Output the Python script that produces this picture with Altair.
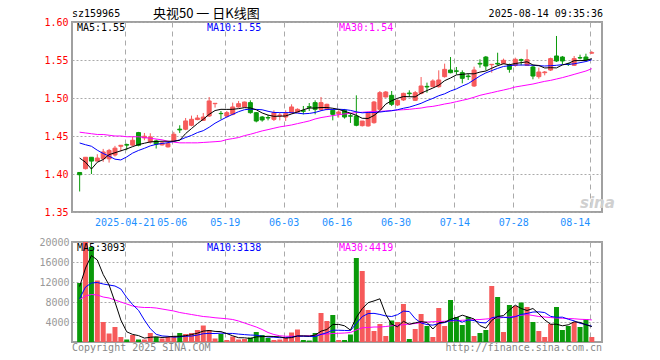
import altair as alt
import pandas as pd

MONO = "DejaVu Sans Mono"
CJK = "Noto Sans CJK SC"

# ---------------- data ----------------
open_ = [1.402, 1.407, 1.422, 1.417, 1.420, 1.420, 1.425, 1.4365, 1.4387, 1.438,
         1.4545, 1.4475, 1.4422, 1.4435, 1.4383, 1.4357, 1.4435, 1.459, 1.4589, 1.4641,
         1.4716, 1.4706, 1.4763, 1.4925, 1.4797, 1.4763, 1.4785, 1.4882, 1.4882, 1.4939,
         1.4807, 1.475, 1.4743, 1.4719, 1.477, 1.475, 1.4807, 1.4816, 1.4833, 1.4886,
         1.4939, 1.4851, 1.4851, 1.4838, 1.4794, 1.4838, 1.4766, 1.4763, 1.4636, 1.4632,
         1.4675, 1.4851, 1.5013, 1.5035, 1.4908, 1.4974, 1.5065, 1.4969, 1.5061, 1.5153,
         1.5149, 1.5149, 1.5281, 1.5368, 1.5357, 1.5333, 1.5289, 1.5158, 1.5456, 1.5539,
         1.5438, 1.5456, 1.5456, 1.543, 1.543, 1.5504, 1.543, 1.5408, 1.5281, 1.5333,
         1.5368, 1.5553, 1.5539, 1.5447, 1.543, 1.5531, 1.5539, 1.5591]
close = [1.399, 1.422, 1.417, 1.421, 1.429, 1.431, 1.434, 1.4378, 1.438, 1.4444,
         1.4378, 1.4497, 1.4488, 1.4392, 1.4409, 1.440, 1.4523, 1.458, 1.4698, 1.472,
         1.4737, 1.475, 1.4961, 1.493, 1.4794, 1.4807, 1.4882, 1.4925, 1.4947, 1.4807,
         1.4697, 1.4711, 1.4737, 1.4807, 1.4776, 1.4794, 1.4882, 1.4851, 1.4825, 1.4878,
         1.4851, 1.4939, 1.4917, 1.4785, 1.4816, 1.475, 1.4761, 1.4641, 1.4697, 1.4807,
         1.4947, 1.507, 1.5079, 1.4917, 1.4969, 1.5061, 1.5057, 1.507, 1.5158, 1.5145,
         1.5224, 1.5237, 1.5377, 1.5333, 1.5351, 1.5259, 1.5281, 1.5368, 1.5447, 1.5421,
         1.5443, 1.5447, 1.5496, 1.5377, 1.5509, 1.5496, 1.5504, 1.5289, 1.5342, 1.5342,
         1.5518, 1.5487, 1.5487, 1.5443, 1.5518, 1.5526, 1.55, 1.5596]
high = [1.402, 1.422, 1.422, 1.426, 1.433, 1.433, 1.437, 1.438, 1.440, 1.449,
        1.4554, 1.454, 1.4536, 1.4453, 1.4431, 1.4422, 1.4554, 1.4641, 1.4737, 1.4768,
        1.4777, 1.4803, 1.5013, 1.493, 1.4829, 1.4829, 1.4939, 1.4961, 1.4952, 1.4969,
        1.4815, 1.4763, 1.4776, 1.4838, 1.4807, 1.4838, 1.4917, 1.4864, 1.4895, 1.4934,
        1.4969, 1.5013, 1.4925, 1.4851, 1.4838, 1.4856, 1.4803, 1.5035, 1.4697, 1.4816,
        1.4961, 1.5092, 1.5092, 1.5092, 1.4982, 1.507, 1.5101, 1.5092, 1.5276, 1.5202,
        1.5246, 1.5364, 1.5452, 1.5539, 1.5408, 1.5364, 1.532, 1.5412, 1.5509, 1.5553,
        1.5443, 1.5596, 1.5518, 1.5452, 1.5531, 1.5518, 1.564, 1.5421, 1.5399, 1.5355,
        1.5531, 1.5816, 1.5553, 1.5465, 1.5553, 1.557, 1.5583, 1.5618]
low = [1.377, 1.406, 1.400, 1.417, 1.416, 1.415, 1.423, 1.4295, 1.4313, 1.4365,
       1.4365, 1.4444, 1.440, 1.4335, 1.4374, 1.4348, 1.4427, 1.454, 1.4576, 1.4628,
       1.4707, 1.470, 1.475, 1.4873, 1.4719, 1.4741, 1.4772, 1.4873, 1.4878, 1.4794,
       1.468, 1.4689, 1.4706, 1.4697, 1.4706, 1.4697, 1.4794, 1.481, 1.4785, 1.4829,
       1.4785, 1.4829, 1.4838, 1.4706, 1.4742, 1.4729, 1.4672, 1.4628, 1.4625, 1.4623,
       1.4662, 1.4842, 1.5004, 1.4894, 1.4894, 1.4961, 1.5013, 1.4961, 1.5048, 1.507,
       1.5145, 1.5136, 1.5268, 1.5325, 1.5311, 1.5193, 1.5237, 1.5145, 1.5399, 1.5364,
       1.5333, 1.543, 1.5443, 1.5333, 1.5412, 1.543, 1.5421, 1.5246, 1.5254, 1.5298,
       1.5355, 1.5474, 1.5443, 1.5421, 1.5421, 1.5509, 1.5491, 1.5579]
ma5 = [1.421, 1.4155, 1.4065, 1.4155, 1.419, 1.4255, 1.428, 1.4305, 1.433, 1.436,
       1.4387, 1.4405, 1.4422, 1.4428, 1.4431, 1.4431, 1.4431, 1.4444, 1.4532, 1.4598,
       1.4663, 1.472, 1.4785, 1.4835, 1.4851, 1.485, 1.4851, 1.486, 1.4873, 1.4869,
       1.4845, 1.4803, 1.4775, 1.4759, 1.476, 1.4764, 1.479, 1.4816, 1.4845, 1.4868,
       1.4868, 1.4875, 1.4875, 1.4865, 1.485, 1.4825, 1.48, 1.4772, 1.4733, 1.4731,
       1.477, 1.4832, 1.492, 1.4964, 1.4996, 1.5019, 1.5017, 1.5015, 1.5063, 1.5098,
       1.5131, 1.5167, 1.5228, 1.5263, 1.5304, 1.5311, 1.532, 1.5318, 1.5341, 1.5355,
       1.5392, 1.5425, 1.5451, 1.5437, 1.5454, 1.5465, 1.5476, 1.5435, 1.5428, 1.5395,
       1.5399, 1.5396, 1.5435, 1.5455, 1.5491, 1.5492, 1.5495, 1.5517]
ma10 = [1.4408, 1.4385, 1.4365, 1.4313, 1.427, 1.4235, 1.4195, 1.4185, 1.4225, 1.4275,
        1.431, 1.4338, 1.437, 1.439, 1.4402, 1.4412, 1.443, 1.4448, 1.448, 1.4508,
        1.4545, 1.457, 1.4615, 1.4668, 1.471, 1.475, 1.4785, 1.482, 1.4846, 1.4854,
        1.485, 1.4845, 1.4825, 1.481, 1.4808, 1.4808, 1.4807, 1.4801, 1.4792, 1.4797,
        1.481, 1.4833, 1.485, 1.485, 1.4852, 1.4848, 1.4837, 1.4818, 1.4805, 1.481,
        1.481, 1.4815, 1.4825, 1.4833, 1.4846, 1.4865, 1.488, 1.4904, 1.493, 1.4965,
        1.4995, 1.503, 1.5055, 1.5092, 1.512, 1.5158, 1.519, 1.524, 1.529, 1.533,
        1.536, 1.539, 1.5415, 1.5425, 1.5434, 1.5434, 1.5434, 1.543, 1.5425, 1.5421,
        1.5425, 1.543, 1.5439, 1.5443, 1.545, 1.5465, 1.548, 1.5503]
ma30 = [1.455, 1.454, 1.453, 1.452, 1.452, 1.451, 1.450, 1.450, 1.449, 1.449,
        1.449, 1.448, 1.447, 1.446, 1.445, 1.443, 1.442, 1.441, 1.441, 1.441,
        1.441, 1.4415, 1.442, 1.4425, 1.4431, 1.4453, 1.4466, 1.448, 1.4505, 1.4523,
        1.4545, 1.4567, 1.4584, 1.4602, 1.462, 1.4632, 1.4645, 1.4663, 1.468, 1.4698,
        1.4724, 1.4742, 1.4755, 1.4768, 1.4781, 1.479, 1.4799, 1.4807, 1.4812, 1.4818,
        1.4822, 1.4825, 1.4829, 1.4833, 1.4842, 1.4846, 1.4851, 1.486, 1.4868, 1.4882,
        1.489, 1.4904, 1.4921, 1.4934, 1.4952, 1.4969, 1.4987, 1.501, 1.5035, 1.5053,
        1.507, 1.5088, 1.5105, 1.5123, 1.5145, 1.5158, 1.5171, 1.5184, 1.5202, 1.5219,
        1.5232, 1.525, 1.5268, 1.5289, 1.5311, 1.5333, 1.5355, 1.5386]
volume = [11800, 20000, 19000, 12300, 4000, 1700, 3000, 1000, 500, 1400,
          500, 500, 1800, 1000, 700, 1000, 1200, 1800, 1600, 1800,
          2400, 3300, 2400, 700, 1600, 400, 1100, 500, 600, 900,
          2000, 1400, 800, 400, 500, 800, 1900, 2500, 400, 300,
          1800, 5800, 4200, 5400, 400, 400, 1500, 16800, 14200, 6400,
          2200, 3600, 1200, 4300, 4000, 7600, 600, 2600, 5600, 3200,
          1000, 6800, 3200, 8400, 5000, 3400, 5000, 1200, 1800, 2400,
          11200, 9000, 2000, 7400, 7200, 7900, 7000, 4000, 2200, 1000,
          3600, 7000, 2400, 3200, 4000, 3000, 4600, 1000]
vma5 = [11100, 14800, 17300, 16400, 13500, 11400, 8000, 4400, 2040, 1520,
        1280, 780, 940, 1040, 900, 1000, 1140, 1140, 1260, 1480,
        1760, 2180, 2300, 2120, 2080, 1680, 1240, 860, 840, 700,
        1020, 1080, 1140, 1100, 1020, 780, 880, 1220, 1220, 1180,
        1380, 2160, 2500, 3500, 3520, 3240, 2380, 4900, 6660, 7860,
        8220, 8640, 5520, 3540, 3060, 4140, 3540, 3820, 4080, 3920,
        2600, 3840, 3960, 4520, 4880, 5360, 5000, 4600, 3280, 2760,
        4320, 5120, 5280, 6400, 7360, 6700, 6300, 6700, 5660, 4420,
        3560, 3560, 3240, 3440, 4040, 3920, 3440, 3093]
vma10 = [8700, 11000, 11800, 11900, 11600, 11400, 11200, 10600, 8900, 7470,
         6340, 4390, 2670, 1540, 1210, 1140, 960, 1040, 1150, 1190,
         1380, 1660, 1720, 1690, 1780, 1720, 1710, 1580, 1480, 1390,
         1350, 1160, 1000, 970, 860, 900, 980, 1180, 1160, 1100,
         1080, 1520, 1860, 2360, 2350, 2310, 2270, 3700, 5080, 5690,
         5730, 5510, 5210, 5100, 5460, 6180, 6090, 4670, 3810, 3490,
         3370, 3690, 3890, 4300, 4400, 3980, 4420, 4280, 3900, 3820,
         4840, 5060, 4940, 4840, 5060, 5510, 5710, 5990, 6030, 5890,
         5130, 4930, 4970, 4550, 4230, 3740, 3500, 3138]
vma30 = [8500, 9200, 9500, 9400, 9000, 8800, 8400, 8000, 7600, 7200,
         7000, 6900, 6900, 6800, 6600, 6400, 6200, 5900, 5700, 5500,
         5300, 5100, 5000, 4850, 4750, 4650, 4500, 4200, 3800, 3400,
         3000, 2500, 1900, 1500, 1250, 1150, 1150, 1150, 1200, 1250,
         1350, 1500, 1600, 1700, 1750, 1800, 1900, 2400, 2850, 2900,
         3000, 3000, 3100, 3250, 3350, 3450, 3600, 3700, 3850, 4000,
         4050, 4100, 4150, 4200, 4250, 4350, 4400, 4450, 4500, 4600,
         4700, 4800, 4900, 5000, 5150, 5350, 5500, 5300, 5100, 5000,
         4900, 4800, 4750, 4700, 4650, 4550, 4500, 4419]

tick_idx = [8, 16, 25, 35, 44, 54, 64, 74, 87]
tick_labels = ["2025-04-21", "05-06", "05-19", "06-03", "06-16", "06-30", "07-14", "07-28", "08-14"]
price_ticks = [1.35, 1.40, 1.45, 1.50, 1.55, 1.60]
vol_ticks = [4000, 8000, 12000, 16000, 20000]

header_code = "sz159965"
header_title = "央视50 一 日K线图"
header_time = "2025-08-14 09:35:36"
ma_price_labels = ["MA5:1.55", "MA10:1.55", "MA30:1.54"]
ma_vol_labels = ["MA5:3093", "MA10:3138", "MA30:4419"]
footer_left = "Copyright 2025 SINA.COM"
footer_right = "http://finance.sina.com.cn"

# ---------------- table ----------------
df = pd.DataFrame({
    "idx": list(range(len(close))),
    "open": open_, "close": close, "high": high, "low": low,
    "ma5": ma5, "ma10": ma10, "ma30": ma30,
    "volume": volume, "vma5": vma5, "vma10": vma10, "vma30": vma30,
})
df["dir"] = ["up" if c >= o else "down" for o, c in zip(open_, close)]

UP, DOWN = "#F65A5A", "#0A9A0A"
cscale = alt.Scale(domain=["up", "down"], range=[UP, DOWN])
GRID_OFF = 0.35
grid_vals = [t - GRID_OFF for t in tick_idx]
label_expr = ("[" + ",".join(f"'{l}'" for l in tick_labels) + "][indexof(["
              + ",".join(str(t) for t in tick_idx) + f"], round(datum.value + {GRID_OFF}))]")

xscale = alt.Scale(domain=[-0.45, 87.88], nice=False, zero=False)
x_top = alt.X("idx:Q", scale=xscale, axis=alt.Axis(
    values=grid_vals, labelExpr=label_expr, ticks=False, domain=False, grid=True,
    gridDash=[5, 4], gridColor="#aaaaaa", gridWidth=1, labelColor="#1E90FF",
    labelFont=MONO, labelFontSize=10, labelPadding=5, title=None, labelFlush=False,
    labelOverlap=False,
    labelAlign={"condition": {"test": "datum.value > 80", "value": "right"}, "value": "center"}))
x_bot = alt.X("idx:Q", scale=xscale, axis=alt.Axis(
    values=grid_vals, labels=False, ticks=False, domain=False, grid=True,
    gridDash=[5, 4], gridColor="#aaaaaa", gridWidth=1, title=None))

yscale = alt.Scale(domain=[1.35, 1.60], nice=False, zero=False)
yaxis = alt.Axis(values=price_ticks, format=".2f", ticks=False, domain=False, grid=True,
                 gridDash=[2, 2], gridColor="#aaaaaa", labelColor="#FF0000", labelFont=MONO,
                 labelFontSize=10, labelPadding=4, title=None, labelFlush=False)
vscale = alt.Scale(domain=[0, 20000], nice=False)
vaxis = alt.Axis(values=vol_ticks, format="d", ticks=False, domain=False, grid=True,
                 gridDash=[2, 2], gridColor="#aaaaaa", labelColor="#999999", labelFont=MONO,
                 labelFontSize=10, labelPadding=3, title=None, labelFlush=False)


def txt(text, x, y, color, size=10, align="left", font=MONO, **kw):
    return alt.Chart(pd.DataFrame({"t": [text]})).mark_text(
        align=align, baseline="middle", color=color, fontSize=size, font=font, **kw
    ).encode(text="t:N", x=alt.value(x), y=alt.value(y))


base_top = alt.Chart(df).encode(x=x_top)
wick = base_top.mark_rule(strokeWidth=1).encode(
    y=alt.Y("low:Q", scale=yscale, axis=yaxis), y2="high:Q",
    color=alt.Color("dir:N", scale=cscale, legend=None))
body = base_top.mark_bar(size=4, strokeWidth=1).encode(
    y=alt.Y("open:Q", scale=yscale, axis=yaxis), y2="close:Q",
    color=alt.Color("dir:N", scale=cscale, legend=None),
    stroke=alt.Stroke("dir:N", scale=cscale, legend=None))
l30 = base_top.mark_line(color="#FF00FF", strokeWidth=1).encode(y=alt.Y("ma30:Q", scale=yscale, axis=yaxis))
l10 = base_top.mark_line(color="#0000FF", strokeWidth=1).encode(y=alt.Y("ma10:Q", scale=yscale, axis=yaxis))
l5 = base_top.mark_line(color="#000000", strokeWidth=1).encode(y=alt.Y("ma5:Q", scale=yscale, axis=yaxis))

top = alt.layer(
    wick, body, l30, l10, l5,
    txt(ma_price_labels[0], 5, 6, "#000000"),
    txt(ma_price_labels[1], 135, 6, "#0000FF"),
    txt(ma_price_labels[2], 267, 6, "#FF00FF"),
    txt(header_code, 0, -8, "#000000"),
    txt(header_title, 81, -8, "#000000", size=13, font=CJK),
    txt(header_time, 531, -8, "#000000", align="right"),
    txt("sina", 508, 181, "#d0d0d0", size=15, font="DejaVu Sans", fontStyle="italic", fontWeight="bold"),
).properties(width=530, height=190)

base_bot = alt.Chart(df).encode(x=x_bot)
vbars = base_bot.mark_bar(size=5).encode(
    y=alt.Y("volume:Q", scale=vscale, axis=vaxis),
    color=alt.Color("dir:N", scale=cscale, legend=None))
v30 = base_bot.mark_line(color="#FF00FF", strokeWidth=1).encode(y=alt.Y("vma30:Q", scale=vscale, axis=vaxis))
v10 = base_bot.mark_line(color="#0000FF", strokeWidth=1).encode(y=alt.Y("vma10:Q", scale=vscale, axis=vaxis))
v5 = base_bot.mark_line(color="#000000", strokeWidth=1).encode(y=alt.Y("vma5:Q", scale=vscale, axis=vaxis))

bottom = alt.layer(
    vbars, v30, v10, v5,
    txt(ma_vol_labels[0], 5, 6, "#000000"),
    txt(ma_vol_labels[1], 135, 6, "#0000FF"),
    txt(ma_vol_labels[2], 267, 6, "#FF00FF"),
    txt(footer_left, 0, 106, "#888888"),
    txt(footer_right, 530, 106, "#888888", align="right"),
).properties(width=530, height=100)

chart = alt.vconcat(top, bottom, spacing=30, bounds="flush").properties(
    padding={"left": 37, "top": 7, "right": 5, "bottom": 5},
    background="white",
).configure_view(stroke="#a0a0a0", strokeWidth=2)

chart.save("out.html", embed_options={"renderer": "svg", "actions": False})
